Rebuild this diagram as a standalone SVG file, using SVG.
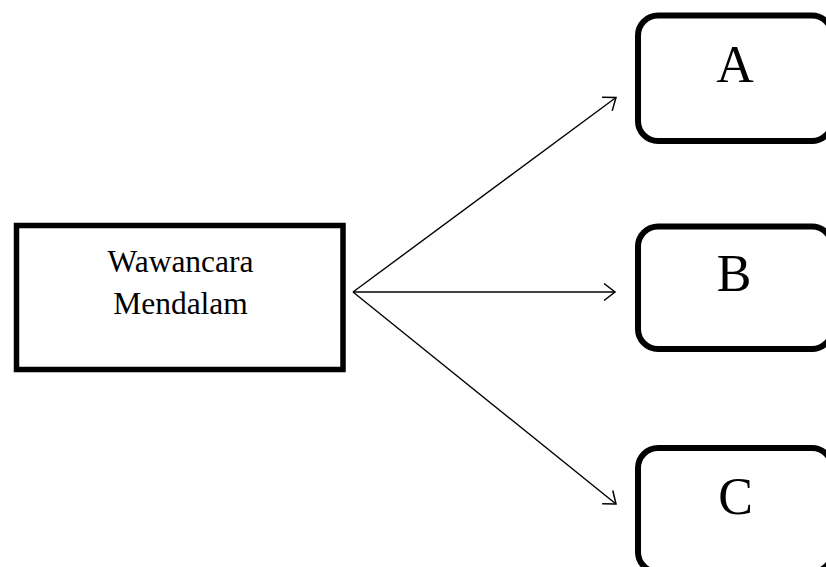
<svg xmlns="http://www.w3.org/2000/svg" width="826" height="567" viewBox="0 0 826 567">
<style>
.box{fill:#fff;stroke:#000;stroke-width:5.5}
.rbox{fill:#fff;stroke:#000;stroke-width:6}
.lbl{font-family:"Liberation Serif","Times New Roman",serif;fill:#000;text-anchor:middle}
.small{font-size:31.5px}
.big{font-size:52px}
.conn{stroke:#000;stroke-width:1.4;fill:none}
</style>
<defs>
<marker id="arr" markerUnits="userSpaceOnUse" viewBox="-14 -11 16 22" refX="0" refY="0" markerWidth="16" markerHeight="22" orient="auto">
<path d="M-11,-8.5 L0,0 L-11,8.5" fill="none" stroke="#000" stroke-width="1.5"/>
</marker>
</defs>
<rect width="826" height="567" fill="#fff"/>
<g id="connectors">
<line class="conn" x1="353" y1="292" x2="616" y2="97.5" marker-end="url(#arr)"/>
<line class="conn" x1="353" y1="292" x2="615" y2="292" marker-end="url(#arr)"/>
<line class="conn" x1="353" y1="292" x2="616" y2="504" marker-end="url(#arr)"/>
</g>
<g id="node-wawancara">
<rect class="box" x="16.5" y="225.5" width="326.5" height="144"/>
<text class="lbl small" x="180.5" y="271.5">Wawancara</text>
<text class="lbl small" x="180.5" y="314">Mendalam</text>
</g>
<g id="node-A">
<rect class="rbox" x="638" y="15.5" width="194" height="125.5" rx="20" ry="20"/>
<text class="lbl big" x="735" y="81.5">A</text>
</g>
<g id="node-B">
<rect class="rbox" x="638" y="226.5" width="194" height="122.5" rx="20" ry="20"/>
<text class="lbl big" x="734" y="291">B</text>
</g>
<g id="node-C">
<rect class="rbox" x="638" y="448" width="194" height="124" rx="20" ry="20"/>
<text class="lbl big" x="735.5" y="514">C</text>
</g>
</svg>
